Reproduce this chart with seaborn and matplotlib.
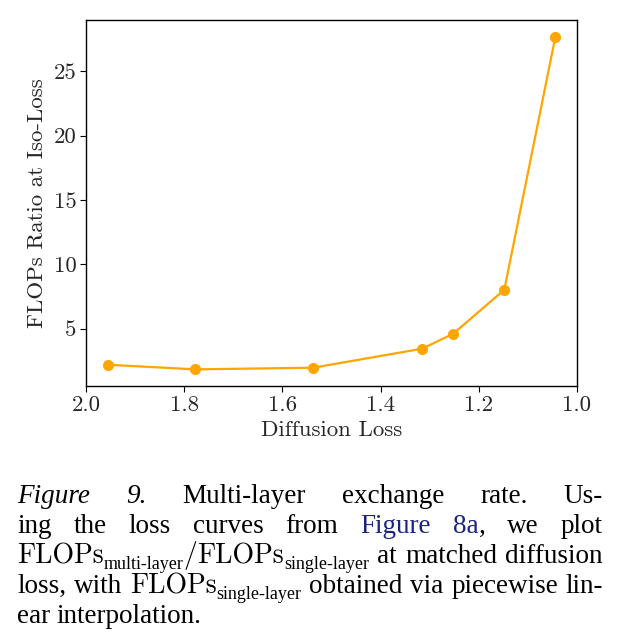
import matplotlib
matplotlib.use("Agg")
import matplotlib.pyplot as plt
import seaborn as sns
import pandas as pd

# ---- data ----
diffusion_loss = [1.956, 1.777, 1.537, 1.315, 1.252, 1.148, 1.044]
flops_ratio = [2.2, 1.84, 1.97, 3.45, 4.61, 8.03, 27.7]
x_ticks = [2.0, 1.8, 1.6, 1.4, 1.2, 1.0]
y_ticks = [5, 10, 15, 20, 25]
x_label = "Diffusion Loss"
y_label = "FLOPs Ratio at Iso-Loss"

sns.set_style("ticks")
plt.rcParams["font.family"] = ["cmr10", "DejaVu Serif"]
plt.rcParams["axes.formatter.use_mathtext"] = True
plt.rcParams["axes.unicode_minus"] = False

W, H = 620, 644
fig = plt.figure(figsize=(W / 100, H / 100), dpi=100)
ax = fig.add_axes([86 / W, 1 - 386 / H, (577 - 86) / W, (386 - 20) / H])

df = pd.DataFrame({"loss": diffusion_loss, "ratio": flops_ratio})
sns.lineplot(data=df, x="loss", y="ratio", ax=ax, color="#FFA500",
             marker="o", markersize=8, markeredgewidth=0, linewidth=1.6,
             sort=False)

ax.set_xlim(2.0, 1.0)
ax.set_xticks(x_ticks)
ax.set_xticklabels([f"{v:.1f}" for v in x_ticks])
ax.set_yticks(y_ticks)
ax.set_yticklabels([str(v) for v in y_ticks])
ax.set_xlabel(x_label, fontsize=16.5, labelpad=4)
ax.set_ylabel(y_label, fontsize=16.5, labelpad=5)
ax.tick_params(labelsize=16.5, length=4, width=0.8, color="black", pad=3)
for s in ax.spines.values():
    s.set_visible(True)
    s.set_color("black")
    s.set_linewidth(1.0)

# ---- caption (justified) ----
renderer = fig.canvas.get_renderer()
TIMES = "Liberation Serif"
CAP = 19.5
SUB = 13
BLUE = "#1a237e"

def seg(t, **kw):
    p = dict(family=TIMES, size=CAP, style="normal", color="black", dy=0)
    p.update(kw)
    return (t, p)

def cm(t):
    return seg(t, family="cmr10", size=CAP + 0.5)

def sub(t):
    return seg(t, size=SUB, dy=-6)

lines = [
    [[seg("Figure", style="italic")], [seg("9.", style="italic")],
     [seg("Multi-layer")], [seg("exchange")], [seg("rate.")], [seg("Us-")]],
    [[seg("ing")], [seg("the")], [seg("loss")], [seg("curves")], [seg("from")],
     [seg("Figure", color=BLUE)], [seg("8a", color=BLUE), seg(",")], [seg("we")], [seg("plot")]],
    [[cm("FLOPs"), sub("multi-layer"), cm("/"), cm("FLOPs"), sub("single-layer")],
     [seg("at")], [seg("matched")], [seg("diffusion")]],
    [[seg("loss,")], [seg("with")], [cm("FLOPs"), sub("single-layer")], [seg("obtained")],
     [seg("via")], [seg("piecewise")], [seg("lin-")]],
    [[seg("ear")], [seg("interpolation.")]],
]
justify = [True, True, True, True, False]
baselines = [503, 533, 563, 593, 623]
left, right = 17, 603

def measure(t, p):
    tt = fig.text(0, 0, t, fontfamily=p["family"], fontsize=p["size"],
                  fontstyle=p["style"])
    w = tt.get_window_extent(renderer).width
    tt.remove()
    return w

for words, just, base in zip(lines, justify, baselines):
    widths = []
    for w in words:
        widths.append(sum(measure(t, p) for t, p in w))
    total = sum(widths)
    if just and len(words) > 1:
        gap = (right - left - total) / (len(words) - 1)
    else:
        gap = measure(" ", dict(family=TIMES, size=CAP, style="normal"))
    x = left
    for w, wd in zip(words, widths):
        xx = x
        for t, p in w:
            fig.text(xx / W, 1 - (base - p["dy"]) / H, t, fontfamily=p["family"],
                     fontsize=p["size"], fontstyle=p["style"], color=p["color"],
                     ha="left", va="baseline")
            xx += measure(t, p)
        x += wd + gap

fig.savefig("out.png", dpi=100)
